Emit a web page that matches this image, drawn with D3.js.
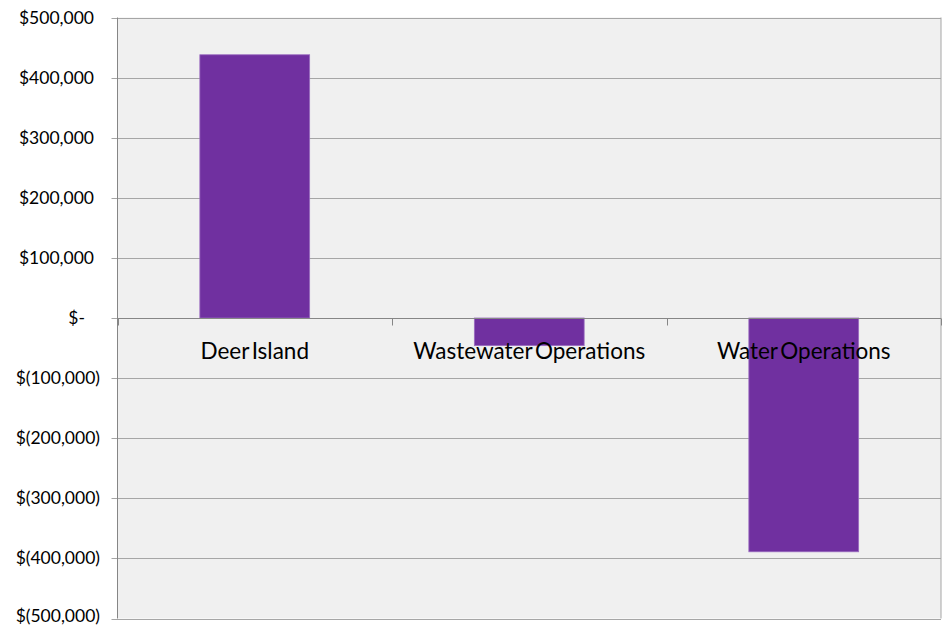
<!DOCTYPE html>
<html><head><meta charset="utf-8">
<script src="https://cdn.jsdelivr.net/npm/d3@7"></script>
<style>body{margin:0;background:#fff;}svg{display:block;}</style>
</head><body>
<svg id="chart" width="943" height="625"></svg>
<script>
const categories = ["Deer Island", "Wastewater Operations", "Water Operations"];
const values = [438000, -46000, -389000];
const tickValues = [500000, 400000, 300000, 200000, 100000, 0, -100000, -200000, -300000, -400000, -500000];
const tickLabels = ["$500,000", "$400,000", "$300,000", "$200,000", "$100,000", "$-", "$(100,000)", "$(200,000)", "$(300,000)", "$(400,000)", "$(500,000)"];

const svg = d3.select("#chart");
const pL = 117.5, pR = 941, pT = 17.5, pB = 618.5;
const font = "Lato, 'Open Sans', sans-serif";

const x = d3.scaleBand().domain(categories).range([pL, pR]).paddingInner(0.6).paddingOuter(0.3);
const xb = d3.scaleBand().domain(categories).range([pL, pR]).padding(0);
const y = d3.scaleLinear().domain([-500000, 500000]).range([pB, pT]);

svg.append("rect").attr("x", pL).attr("y", pT).attr("width", pR - pL).attr("height", pB - pT)
  .attr("fill", "#f0f0f0");

// gridlines
svg.append("g").selectAll("line").data(tickValues).join("line")
  .attr("x1", pL - 6).attr("x2", pR)
  .attr("y1", d => Math.round(y(d)) + 0.5).attr("y2", d => Math.round(y(d)) + 0.5)
  .attr("stroke", "#a6a6a6").attr("stroke-width", 1);

// right border
svg.append("line").attr("x1", pR).attr("x2", pR).attr("y1", pT).attr("y2", pB)
  .attr("stroke", "#a6a6a6");

// bars
svg.append("g").selectAll("rect").data(values).join("rect")
  .attr("x", (d, i) => x(categories[i]))
  .attr("width", x.bandwidth())
  .attr("y", d => y(Math.max(0, d)))
  .attr("height", d => Math.abs(y(d) - y(0)))
  .attr("fill", "#7030a0")
  .attr("stroke", "#9a6cc0").attr("stroke-width", 0.8);

// left axis line
svg.append("line").attr("x1", pL).attr("x2", pL).attr("y1", pT).attr("y2", pB)
  .attr("stroke", "#868686").attr("stroke-width", 1);

// zero axis line and ticks
const y0 = Math.round(y(0)) + 0.5;
svg.append("line").attr("x1", pL).attr("x2", pR).attr("y1", y0).attr("y2", y0)
  .attr("stroke", "#868686");
const bounds = categories.map(c => xb(c)).concat([pR]);
svg.append("g").selectAll("line").data(bounds).join("line")
  .attr("x1", d => Math.round(d) + 0.5).attr("x2", d => Math.round(d) + 0.5)
  .attr("y1", y0).attr("y2", y0 + 7).attr("stroke", "#868686");

// y tick labels
svg.append("g").selectAll("text").data(tickValues).join("text")
  .attr("x", (d, i) => tickLabels[i] === "$-" ? 85 : (d > 0 ? 94 : 100))
  .attr("y", d => Math.min(y(d) + 6, 622))
  .attr("text-anchor", "end")
  .attr("font-family", font).attr("font-size", 17.5).attr("fill", "#000")
  .text((d, i) => tickLabels[i]);

// category labels
svg.append("g").selectAll("text").data(categories).join("text")
  .attr("x", d => xb(d) + xb.bandwidth() / 2)
  .attr("y", y0 + 40)
  .attr("text-anchor", "middle")
  .attr("font-family", font).attr("font-size", 22.5).attr("word-spacing", -3).attr("fill", "#000")
  .text(d => d);
</script>
</body></html>
